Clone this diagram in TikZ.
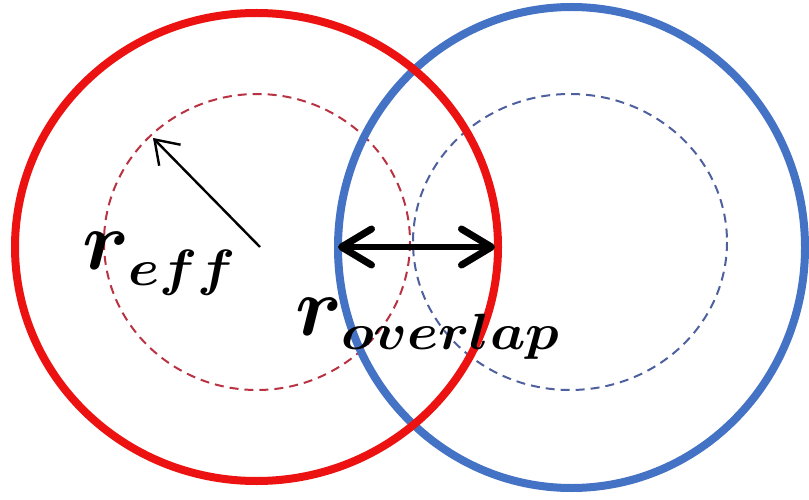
\RequirePackage{fix-cm}
\documentclass[tikz,border=0pt]{standalone}
\usepackage{bm}
\usepackage{graphicx}
\usetikzlibrary{arrows.meta}
\definecolor{redc}{RGB}{236,18,18}
\definecolor{bluec}{RGB}{68,114,196}
\definecolor{reddash}{RGB}{184,50,66}
\definecolor{bluedash}{RGB}{78,96,158}
\newcommand{\bigsym}[1]{{\fontsize{84}{84}\selectfont$\bm{#1}$}}
\newcommand{\subsym}[1]{{\fontsize{51}{51}\selectfont\scalebox{1.1}[1.0]{$\bm{#1}$}}}
\tikzset{
  solidring/.style={line width=8pt},
  dashring/.style={line width=2pt, dash pattern=on 9pt off 6pt},
  lbl/.style={inner sep=0pt, outer sep=0pt, anchor=base west, text=black},
  radarrow/.style={line width=2.4pt, -{Straight Barb[length=22pt,width=30pt,line width=2.4pt]}},
  ovarrow/.style={line width=6pt, {Straight Barb[length=30pt,width=36pt,line width=7pt,round]}-{Straight Barb[length=30pt,width=36pt,line width=7pt,round]}}
}
\begin{document}
\begin{tikzpicture}[x=1pt,y=-1pt]
\useasboundingbox (0,0) rectangle (809,500);
% dashed inner circles
\draw[dashring, reddash] (257,242) ellipse [x radius=153, y radius=148];
\draw[dashring, bluedash] (570,242) ellipse [x radius=157, y radius=148];
% solid outer circles
\draw[solidring, bluec] (571.5,247.5) ellipse [x radius=233.5, y radius=240.5];
\draw[solidring, redc] (256.5,247) ellipse [x radius=241.5, y radius=234];
% connectors
\coordinate (rcen) at (260,247);
\coordinate (rtip) at (153,138);
\coordinate (ovl) at (338,247);
\coordinate (ovr) at (495,247);
\draw[radarrow] (rcen) -- (rtip);
\draw[ovarrow] (ovl) -- (ovr);
% labels
\node[lbl] (reffr) at (82,269) {\bigsym{r}};
\node[lbl] (reffs) at (128,285) {\subsym{eff}};
\node[lbl] (rovr) at (295,335) {\bigsym{r}};
\node[lbl] (rovs) at (341,349) {\subsym{overlap}};
\end{tikzpicture}
\end{document}
